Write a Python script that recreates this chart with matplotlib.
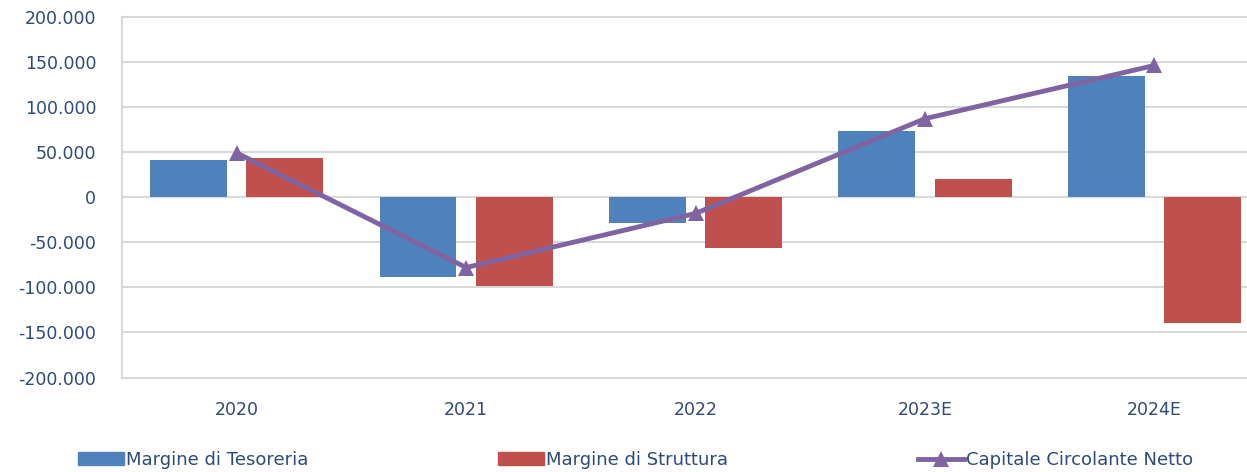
import matplotlib
matplotlib.use("Agg")
import numpy as np
import matplotlib.pyplot as plt
from matplotlib.ticker import FuncFormatter, MultipleLocator
from matplotlib.patches import Patch
from matplotlib.lines import Line2D

# ---- DATA ----
years = ["2020", "2021", "2022", "2023E", "2024E"]
margine_tesoreria = [41000, -88000, -29000, 73000, 134000]
margine_struttura = [43000, -99000, -56000, 20000, -139000]
capitale_circolante = [49000, -78000, -18000, 87000, 146000]

# ---- STYLE ----
BLUE = "#4F81BD"
RED = "#C0504D"
PURPLE = "#8064A2"
TEXT = "#2E4A78"
GRID = "#D9D9D9"


def it_thousands(v, _pos):
    return f"{v:,.0f}".replace(",", ".")


def main():
    fig = plt.figure(figsize=(12.47, 4.72), dpi=100)
    ax = fig.add_axes([0.0978, 0.2, 0.92, 0.7646])

    x = np.arange(len(years))
    w = 0.335
    off = 0.21
    ax.bar(x - off, margine_tesoreria, width=w, color=BLUE, zorder=2)
    ax.bar(x + off, margine_struttura, width=w, color=RED, zorder=2)
    ax.plot(x, capitale_circolante, color=PURPLE, lw=3.5, marker="^",
            markersize=11.5, markeredgewidth=0, zorder=3, clip_on=False)

    ax.set_xlim(-0.5, len(years) - 0.5)
    ax.set_ylim(-200000, 200000)
    ax.yaxis.set_major_locator(MultipleLocator(50000))
    ax.yaxis.set_major_formatter(FuncFormatter(it_thousands))
    ax.set_xticks(x)
    ax.set_xticklabels(years)

    ax.grid(axis="y", color=GRID, lw=1.5, zorder=0)
    for gl in ax.get_ygridlines():
        gl.set_clip_on(False)
    for s in ["top", "right", "bottom"]:
        ax.spines[s].set_visible(False)
    ax.spines["left"].set_color(GRID)
    ax.spines["left"].set_linewidth(1.5)
    ax.tick_params(axis="both", length=0, labelsize=12.5, labelcolor=TEXT)
    ax.tick_params(axis="y", pad=18.5)
    ax.tick_params(axis="x", pad=17)

    # legend: three entries spread across the bottom
    handles = [
        Patch(color=BLUE, label="Margine di Tesoreria"),
        Patch(color=RED, label="Margine di Struttura"),
        Line2D([], [], color=PURPLE, lw=3.5, marker="^", markersize=11.5,
               markeredgewidth=0, label="Capitale Circolante Netto"),
    ]
    xs = [78 / 1247, 498 / 1247, 918 / 1247]
    for h, xp in zip(handles, xs):
        fig.legend(handles=[h], loc="center left", bbox_to_anchor=(xp, 1 - 460 / 472),
                   frameon=False, borderpad=0, borderaxespad=0,
                   handlelength=2.55, handleheight=0.72, handletextpad=0.12,
                   fontsize=13, labelcolor=TEXT)

    fig.savefig("out.png", dpi=100)
    plt.close(fig)


if __name__ == "__main__":
    main()
